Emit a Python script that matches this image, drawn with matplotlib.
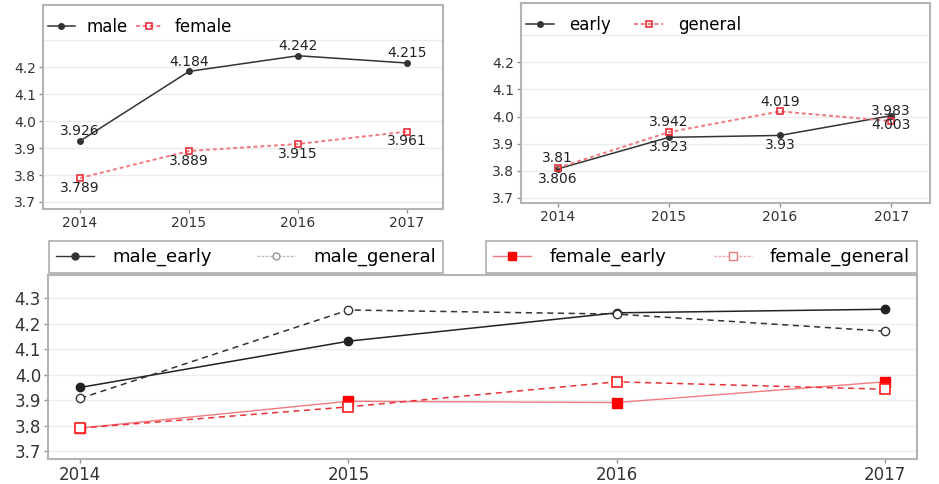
import numpy as np
import matplotlib
matplotlib.use("Agg")
import matplotlib.pyplot as plt
from matplotlib.lines import Line2D

plt.rcParams['font.family'] = ['DejaVu Sans']

# ---------------------------------------------------------------------------
# Data
# ---------------------------------------------------------------------------
years = [2014, 2015, 2016, 2017]

male = [3.926, 4.184, 4.242, 4.215]
female = [3.789, 3.889, 3.915, 3.961]

early = [3.806, 3.923, 3.93, 4.003]
general = [3.81, 3.942, 4.019, 3.983]

male_early = [3.950, 4.131, 4.242, 4.256]
male_general = [3.907, 4.253, 4.237, 4.170]
female_early = [3.791, 3.896, 3.891, 3.972]
female_general = [3.791, 3.874, 3.972, 3.943]

yticks = [3.7, 3.8, 3.9, 4.0, 4.1, 4.2]
yticks_bottom = [3.7, 3.8, 3.9, 4.0, 4.1, 4.2, 4.3]

W, H = 939, 484
FRAME = '#b4b4b4'
GRID = '#ececec'
RED = '#e8303a'
LIGHTRED = '#f27a7f'
TXT = '#333333'


def px_axes(fig, x0, y0, x1, y1):
    """Add axes using pixel box (top-left origin)."""
    return fig.add_axes([x0 / W, (H - y1) / H, (x1 - x0) / W, (y1 - y0) / H])


def style(ax, ticks, grid_vals, fs=10):
    ax.set_xticks(years)
    ax.set_yticks(ticks)
    ax.set_yticklabels([f"{t:.1f}" for t in ticks])
    for g in grid_vals:
        ax.axhline(g, color=GRID, lw=1.0, zorder=0)
    for s in ax.spines.values():
        s.set_color(FRAME)
        s.set_linewidth(1.5)
    ax.tick_params(colors='#909090', labelcolor=TXT, labelsize=fs,
                   length=3, width=1, pad=2)


fig = plt.figure(figsize=(W / 100, H / 100), dpi=100)
fig.patch.set_facecolor('white')

# ---------------------------------------------------------------------------
# Top-left: male vs female
# ---------------------------------------------------------------------------
ax1 = px_axes(fig, 43, 5, 443, 209)
ax1.plot(years, male, color='#333333', lw=1.1, marker='o', ms=4,
         label='male')
ax1.plot(years, female, color=LIGHTRED, lw=1.4, ls=(0, (2, 1.5)),
         marker='s', ms=4.5, mfc='none', mec=RED, mew=1.2, label='female')
for x, v in zip(years, male):
    ax1.annotate(f"{v:g}", (x, v), xytext=(0, 2), textcoords='offset points',
                 ha='center', va='bottom', fontsize=10, color='#222222')
for x, v in zip(years, female):
    ax1.annotate(f"{v:g}", (x, v), xytext=(0, -2), textcoords='offset points',
                 ha='center', va='top', fontsize=10, color='#222222')
ax1.set_xlim(2013.66, 2017.33)
ax1.set_ylim(3.674, 4.43)
style(ax1, yticks, yticks + [4.3])
ax1.legend(loc='upper left', bbox_to_anchor=(0.0, 0.96), frameon=False,
           ncol=2, fontsize=12, handlelength=1.6, columnspacing=0.5,
           borderaxespad=0, borderpad=0.3, handletextpad=0.7)

# ---------------------------------------------------------------------------
# Top-right: early vs general
# ---------------------------------------------------------------------------
ax2 = px_axes(fig, 521, 3, 930, 203)
ax2.plot(years, early, color='#333333', lw=1.1, marker='o', ms=4,
         label='early')
ax2.plot(years, general, color=LIGHTRED, lw=1.4, ls=(0, (2, 1.5)),
         marker='s', ms=4.5, mfc='none', mec=RED, mew=1.2, label='general')
for x, v in zip(years, early):
    ax2.annotate(f"{v:g}", (x, v), xytext=(0, -2), textcoords='offset points',
                 ha='center', va='top', fontsize=10, color='#222222')
for x, v in zip(years, general):
    ax2.annotate(f"{v:g}", (x, v), xytext=(0, 2), textcoords='offset points',
                 ha='center', va='bottom', fontsize=10, color='#222222')
ax2.set_xlim(2013.67, 2017.35)
ax2.set_ylim(3.68, 4.42)
style(ax2, yticks, yticks + [4.3])
ax2.legend(loc='upper left', bbox_to_anchor=(0.0, 0.96), frameon=False,
           ncol=2, fontsize=12, handlelength=1.7, columnspacing=1.4,
           borderaxespad=0, borderpad=0.3, handletextpad=0.9)

# ---------------------------------------------------------------------------
# Bottom: four groups
# ---------------------------------------------------------------------------
ax3 = px_axes(fig, 48, 275, 917, 459)
ax3.plot(years, male_early, color='#222222', lw=1.1, marker='o', ms=6)
ax3.plot(years, male_general, color='#333333', lw=1.1, ls=(0, (4, 3)),
         marker='o', ms=6, mfc='white', mec='#333333', mew=1.0)
ax3.plot(years, female_early, color=LIGHTRED, lw=1.0, marker='s', ms=6.5,
         mfc='#ff0000', mec='#ff0000')
ax3.plot(years, female_general, color=RED, lw=1.1, ls=(0, (4, 3)),
         marker='s', ms=6.5, mfc='white', mec='#ff2020', mew=1.2)
ax3.set_xlim(2013.88, 2017.12)
ax3.set_ylim(3.67, 4.39)
style(ax3, yticks_bottom, yticks_bottom, fs=12)
ax3.tick_params(axis='x', labelsize=12)

# legend keys drawn the way the reference shows them (lighter general keys)
leg_left = [
    Line2D([], [], color='#333333', lw=1.0, marker='o', ms=5,
           label='male_early'),
    Line2D([], [], color='#bbbbbb', lw=1.0, ls=(0, (2, 1)), marker='o',
           ms=5, mfc='white', mec='#999999', label='male_general'),
]
leg_right = [
    Line2D([], [], color=LIGHTRED, lw=1.0, marker='s', ms=6,
           mfc='#ff0000', mec='#ff0000', label='female_early'),
    Line2D([], [], color='#f6a6aa', lw=1.0, ls=(0, (2, 1)), marker='s',
           ms=6, mfc='white', mec=LIGHTRED, label='female_general'),
]
for handles, box in ((leg_left, (49, 443)), (leg_right, (486, 917))):
    x0, x1 = box
    leg = fig.legend(handles=handles,
                     bbox_to_anchor=(x0 / W, (H - 275) / H,
                                     (x1 - x0) / W, 36 / H),
                     loc='center', mode='expand', ncol=2, fontsize=13,
                     frameon=True, fancybox=False, borderaxespad=0,
                     handlelength=2.1, handletextpad=1.0)
    leg.get_frame().set_edgecolor('#999999')
    leg.get_frame().set_linewidth(1.2)

fig.savefig('out.png', dpi=100, facecolor='white')
